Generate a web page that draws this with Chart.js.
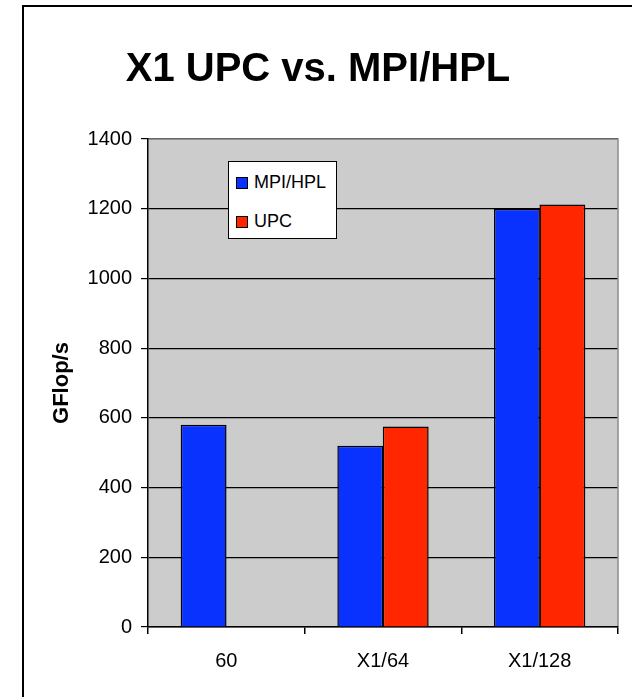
<!DOCTYPE html>
<html>
<head>
<meta charset="utf-8">
<script src="https://cdn.jsdelivr.net/npm/chart.js@4"></script>
<style>
  body { margin: 0; background: #fff; overflow: hidden; }
  #wrap { position: relative; width: 632px; height: 697px; }
  #frame { position: absolute; left: 22px; top: 5px; width: 700px; height: 800px; border: 2.5px solid #000; box-sizing: border-box; }
  canvas { position: absolute; left: 0; top: 0; }
  #legend { position: absolute; left: 228px; top: 161px; width: 109px; height: 78px; box-sizing: border-box;
    border: 1.5px solid #000; background: #fff; font-family: "Liberation Sans", Arial, sans-serif; font-size: 18px; }
  .item { position: absolute; left: 7px; display: flex; align-items: center; }
  .sw { width: 10px; height: 10px; border: 1px solid #000; margin-right: 6px; }
</style>
</head>
<body>
<div id="wrap">
  <div id="frame"></div>
  <canvas id="chart" width="632" height="697"></canvas>
  <div id="legend"></div>
</div>
<script>
// data
const categories = ['60', 'X1/64', 'X1/128'];
const mpiHpl = [580, 520, 1200];
const upc = [null, 575, 1212];
const yTicks = [0, 200, 400, 600, 800, 1000, 1200, 1400];

const seriesNames = ['MPI/HPL', 'UPC'];
const seriesColors = ['#0A32FF', '#FF2600'];

const font = '"Liberation Sans", Arial, sans-serif';

// plot background + grey frame on top/right like Excel
const plotArea = {
  id: 'plotArea',
  beforeDraw(chart) {
    const { ctx, chartArea: a } = chart;
    ctx.save();
    ctx.fillStyle = '#CCCCCC';
    ctx.fillRect(a.left, a.top, a.right - a.left, a.bottom - a.top);
    ctx.restore();
  },
  afterDraw(chart) {
    const { ctx, chartArea: a } = chart;
    ctx.save();
    ctx.strokeStyle = '#8c8c8c';
    ctx.lineWidth = 1.5;
    ctx.beginPath();
    ctx.moveTo(a.left + 1, a.top);
    ctx.lineTo(a.right, a.top);
    ctx.lineTo(a.right, a.bottom - 1);
    ctx.stroke();
    ctx.restore();
  }
};

new Chart(document.getElementById('chart'), {
  type: 'bar',
  data: {
    labels: categories,
    datasets: [
      { label: seriesNames[0], data: mpiHpl, backgroundColor: seriesColors[0], borderColor: '#000', borderWidth: 1.5 },
      { label: seriesNames[1], data: upc, backgroundColor: seriesColors[1], borderColor: '#000', borderWidth: 1.5 }
    ]
  },
  options: {
    responsive: false,
    animation: false,
    devicePixelRatio: 1,
    layout: { padding: { left: 18, right: 14, top: 0, bottom: 9 } },
    datasets: { bar: { categoryPercentage: 0.58, barPercentage: 1.01 } },
    plugins: {
      legend: { display: false },
      tooltip: { enabled: false },
      title: {
        display: true,
        text: 'X1 UPC vs. MPI/HPL',
        color: '#000',
        font: { family: font, size: 40, weight: 'bold' },
        padding: { top: 46, bottom: 45 }
      }
    },
    scales: {
      x: {
        grid: { display: true, drawOnChartArea: false, drawTicks: true, tickLength: 7, color: '#000', lineWidth: 1.5 },
        border: { color: '#000', width: 1.5 },
        ticks: { color: '#000', font: { family: font, size: 20 }, padding: 15 }
      },
      y: {
        min: 0,
        max: 1400,
        afterBuildTicks(scale) { scale.ticks = yTicks.map(v => ({ value: v })); },
        afterFit(scale) { scale.width = 130; },
        grid: { color: '#000', lineWidth: 1.2, tickLength: 7 },
        border: { color: '#000', width: 1.5 },
        ticks: { color: '#000', font: { family: font, size: 20 }, padding: 9, callback: v => String(v) },
        title: {
          display: true,
          text: 'GFlop/s',
          color: '#000',
          font: { family: font, size: 22, weight: 'bold' },
          padding: { top: 31, bottom: 0 }
        }
      }
    }
  },
  plugins: [plotArea]
});

// legend box inside the plot, built from the same names/colours
const legend = document.getElementById('legend');
seriesNames.forEach((name, i) => {
  const item = document.createElement('div');
  item.className = 'item';
  item.style.top = (10 + i * 39) + 'px';
  const sw = document.createElement('span');
  sw.className = 'sw';
  sw.style.background = seriesColors[i];
  const txt = document.createElement('span');
  txt.textContent = name;
  item.appendChild(sw);
  item.appendChild(txt);
  legend.appendChild(item);
});
</script>
</body>
</html>
